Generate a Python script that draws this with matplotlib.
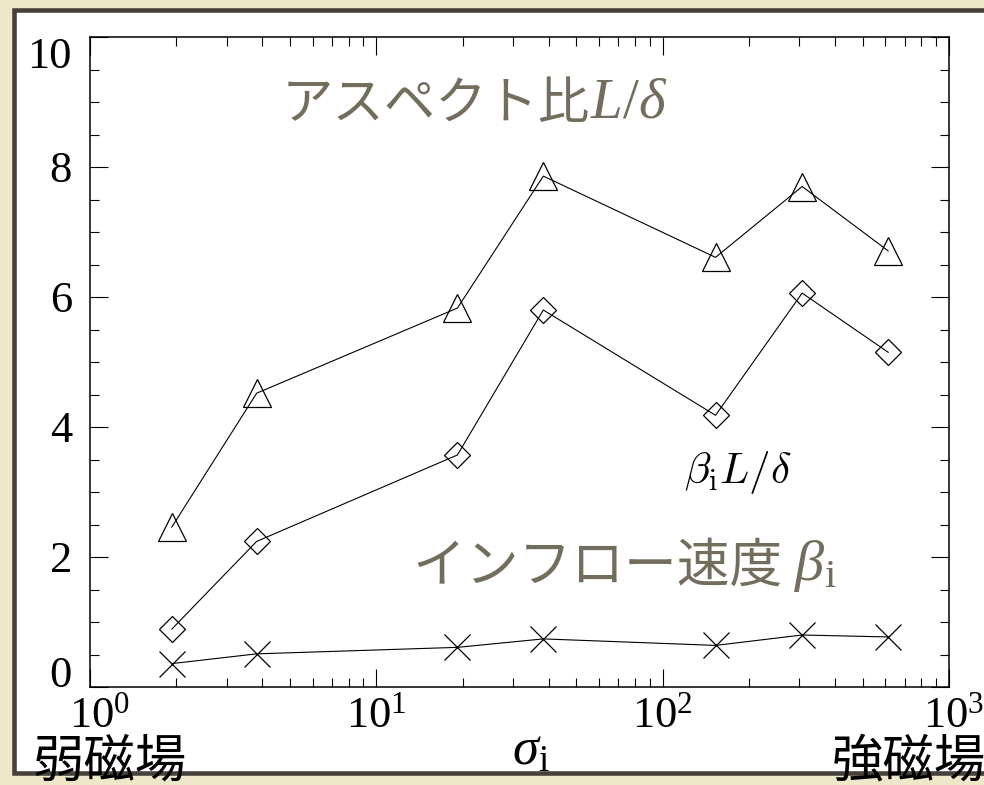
import matplotlib
matplotlib.use("Agg")
import matplotlib.pyplot as plt
from matplotlib.patches import Rectangle
from matplotlib.transforms import ScaledTranslation
from matplotlib.ticker import LogFormatterMathtext, MultipleLocator, LogLocator

plt.rcParams['font.family'] = ['Liberation Serif', 'DejaVu Serif']
plt.rcParams['mathtext.fontset'] = 'custom'
plt.rcParams['mathtext.rm'] = 'Liberation Serif'
plt.rcParams['mathtext.it'] = 'Liberation Serif:italic'

# data
sigma = [1.93, 3.82, 19.2, 38.3, 153, 307, 613]
aspect = [2.46, 4.52, 5.83, 7.86, 6.61, 7.70, 6.71]      # L/delta
beta_aspect = [0.89, 2.24, 3.57, 5.80, 4.18, 6.06, 5.15]  # beta_i L/delta
beta = [0.36, 0.51, 0.61, 0.74, 0.64, 0.80, 0.77]        # inflow speed

W, H = 984, 785
fig = plt.figure(figsize=(W / 100, H / 100), dpi=100, facecolor='#efe7c9')


def fx(x):
    return x / W


def fy(y):
    return 1 - y / H


# white panel with dark frame
panel = Rectangle((fx(14), fy(773)), fx(1010 - 14), (773 - 10) / H,
                  transform=fig.transFigure, facecolor='white',
                  edgecolor='#46423a', linewidth=3.3, zorder=-1)
fig.add_artist(panel)

ax = fig.add_axes([fx(90), fy(687), fx(949 - 90), (687 - 37) / H])
ax.set_facecolor('white')

ax.plot(sigma, aspect, color='black', lw=0.8, marker='^', ms=20,
        mfc='none', mec='black', mew=0.9)
ax.plot(sigma, beta_aspect, color='black', lw=0.8, marker='D', ms=13.5,
        mfc='none', mec='black', mew=0.9)
ax.plot(sigma, beta, color='black', lw=0.8, marker='x', ms=19,
        mec='black', mew=0.9)

ax.set_xscale('log')
ax.set_xlim(1, 1000)
ax.set_ylim(0, 10)
ax.xaxis.set_major_locator(LogLocator(base=10))
ax.xaxis.set_major_formatter(LogFormatterMathtext())
ax.yaxis.set_major_locator(MultipleLocator(2))
ax.yaxis.set_minor_locator(MultipleLocator(0.5))

for s in ax.spines.values():
    s.set_linewidth(1.1)
ax.tick_params(which='both', direction='in', top=True, right=True,
               width=0.8, colors='black')
ax.tick_params(which='major', length=13)
ax.tick_params(which='minor', length=6.5)
ax.tick_params(axis='y', which='major', labelsize=32, pad=13)
ax.tick_params(axis='x', which='major', labelsize=32, pad=7)

# end labels are pushed inwards, as in the original
fig.canvas.draw()
for tick in ax.yaxis.get_major_ticks():
    if abs(tick.get_loc() - 0) < 1e-9:
        tick.label1.set_va('baseline')
    elif abs(tick.get_loc() - 10) < 1e-9:
        tick.label1.set_va('top')
for tick in ax.xaxis.get_major_ticks():
    if abs(tick.get_loc() - 1) < 1e-9:
        shift = 0.1
    elif abs(tick.get_loc() - 1000) < 1e-6:
        shift = 0.05
    else:
        continue
    tick.label1.set_transform(tick.label1.get_transform()
                              + ScaledTranslation(shift, 0, fig.dpi_scale_trans))

# axis label and end captions
fig.text(fx(531), fy(752), r'$\sigma_{\mathrm{i}}$', fontsize=38,
         ha='center', va='center')
fig.text(fx(33), fy(762), '弱磁場', fontsize=37, family='Noto Sans CJK JP',
         ha='left', va='center')
fig.text(fx(986), fy(762), '強磁場', fontsize=37, family='Noto Sans CJK JP',
         ha='right', va='center')

grey = '#736d5d'
t1 = fig.text(fx(282), fy(104), 'アスペクト比', fontsize=37, color=grey,
              family='Noto Sans CJK JP', ha='left', va='center')
ax.annotate(r'$L/\delta$', xy=(1, 0.5), xycoords=t1, fontsize=41,
            color=grey, ha='left', va='center')

t2 = fig.text(fx(413), fy(566), 'インフロー速度 ', fontsize=38, color=grey,
              family='Noto Sans CJK JP', ha='left', va='center')
ax.annotate(r'$\beta_{\mathrm{i}}$', xy=(1, 0.5), xycoords=t2, fontsize=42,
            color=grey, ha='left', va='center')

fig.text(fx(684), fy(472), r'$\beta_{\mathrm{i}}L/\delta$', fontsize=31,
         math_fontfamily='cm', ha='left', va='center')

fig.savefig('out.png', dpi=100, facecolor=fig.get_facecolor())
